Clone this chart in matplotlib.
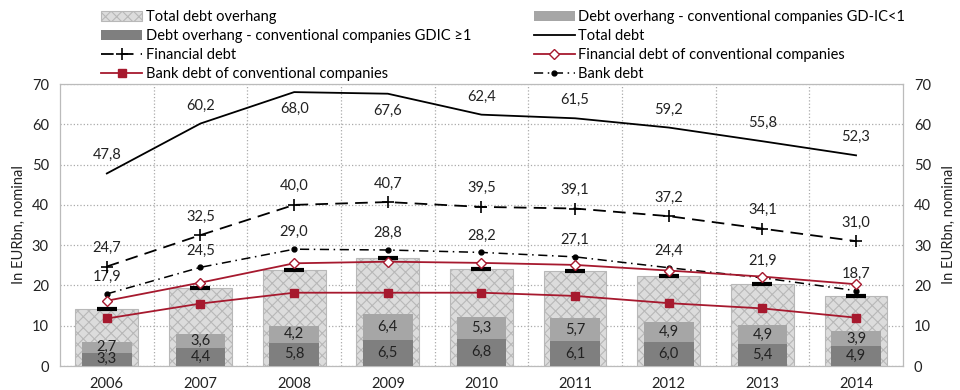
import matplotlib.pyplot as plt
import numpy as np

plt.rcParams['font.family'] = ['Lato', 'DejaVu Sans']
plt.rcParams['hatch.color'] = '#a0a0a0'
plt.rcParams['hatch.linewidth'] = 0.8

years = ['2006', '2007', '2008', '2009', '2010', '2011', '2012', '2013', '2014']
overhang_total = [14.1, 19.3, 23.8, 26.9, 24.2, 23.6, 22.3, 20.3, 17.4]
overhang_ge1 = [3.3, 4.4, 5.8, 6.5, 6.8, 6.1, 6.0, 5.4, 4.9]
overhang_lt1 = [2.7, 3.6, 4.2, 6.4, 5.3, 5.7, 4.9, 4.9, 3.9]
total_debt = [47.8, 60.2, 68.0, 67.6, 62.4, 61.5, 59.2, 55.8, 52.3]
financial_debt = [24.7, 32.5, 40.0, 40.7, 39.5, 39.1, 37.2, 34.1, 31.0]
bank_debt = [17.9, 24.5, 29.0, 28.8, 28.2, 27.1, 24.4, 21.9, 18.7]
fin_debt_conv = [16.2, 20.7, 25.5, 25.9, 25.6, 25.1, 23.7, 22.2, 20.3]
bank_debt_conv = [11.8, 15.5, 18.2, 18.2, 18.2, 17.4, 15.6, 14.3, 12.0]

def fmt(v):
    return f'{v:.1f}'.replace('.', ',')

red = '#a6192e'
x = np.arange(len(years))

fig = plt.figure(figsize=(9.6, 3.9), dpi=100)
ax = fig.add_axes([0.0625, 0.0615, 0.878, 0.723])

b0 = ax.bar(x, overhang_total, width=0.67, color='#dcdcdc', edgecolor='#b8b8b8',
            hatch='xxx', linewidth=0.8, label='Total debt overhang', zorder=2)
b1 = ax.bar(x, overhang_ge1, width=0.53, color='#7f7f7f',
            label='Debt overhang - conventional companies GDIC \u22651', zorder=3)
b2 = ax.bar(x, overhang_lt1, width=0.53, bottom=overhang_ge1, color='#a6a6a6',
            label='Debt overhang - conventional companies GD-IC<1', zorder=3)
ax.plot(x, overhang_total, ls='none', marker='_', ms=14, mew=3, color='black', zorder=4)

for i in range(len(x)):
    ax.text(x[i], overhang_ge1[i] / 2, fmt(overhang_ge1[i]), ha='center', va='center',
            fontsize=10.5, color='#222222', zorder=5)
    ax.text(x[i], overhang_ge1[i] + overhang_lt1[i] / 2, fmt(overhang_lt1[i]), ha='center',
            va='center', fontsize=10.5, color='#222222', zorder=5)

l_total, = ax.plot(x, total_debt, color='black', lw=1.3, label='Total debt', zorder=6)
l_fin, = ax.plot(x, financial_debt, color='black', lw=1.3, ls=(0, (7, 4)), marker='+',
                 ms=8, mew=1.2, label='Financial debt', zorder=6)
l_bank, = ax.plot(x, bank_debt, color='black', lw=1.1, ls=(0, (6, 3, 1, 3)), marker='o',
                  ms=3.5, label='Bank debt', zorder=6)
l_finc, = ax.plot(x, fin_debt_conv, color=red, lw=1.3, marker='D', ms=5.5, mfc='white',
                  mec=red, mew=1, label='Financial debt of conventional companies', zorder=7)
l_bankc, = ax.plot(x, bank_debt_conv, color=red, lw=1.3, marker='s', ms=6,
                   label='Bank debt of conventional companies', zorder=7)

for i in range(len(x)):
    off = -4.2 if years[i] in ('2008', '2009') else 4.5
    ax.text(x[i], total_debt[i] + off, fmt(total_debt[i]), ha='center', va='center',
            fontsize=10.5, color='#222222')
    ax.text(x[i], financial_debt[i] + 4.6, fmt(financial_debt[i]), ha='center', va='center',
            fontsize=10.5, color='#222222')
    ax.text(x[i], bank_debt[i] + 4.2, fmt(bank_debt[i]), ha='center', va='center',
            fontsize=10.5, color='#222222')

ax.set_xlim(-0.5, len(x) - 0.5)
ax.set_ylim(0, 70)
ax.set_xticks(x)
ax.set_xticklabels(years, fontsize=10.5)
ax.set_xticks(x[:-1] + 0.5, minor=True)
ax.set_yticks(range(0, 71, 10))
ax.tick_params(axis='both', which='both', length=0, labelsize=10.5, colors='#222222')
ax.tick_params(axis='y', pad=8)
ax.tick_params(axis='x', pad=8)
ax.grid(axis='y', which='major', ls=':', color='#aaaaaa', lw=0.9, zorder=0)
ax.grid(axis='x', which='minor', ls=':', color='#aaaaaa', lw=0.9, zorder=0)
ax.set_axisbelow(True)
for s in ax.spines.values():
    s.set_color('#bbbbbb')
    s.set_linewidth(0.9)
ax.set_ylabel('In EURbn, nominal', fontsize=10.5, color='#222222')

ax2 = ax.twinx()
ax2.set_ylim(0, 70)
ax2.set_yticks(range(0, 71, 10))
ax2.tick_params(axis='y', length=0, labelsize=10.5, colors='#222222', pad=8)
ax2.set_ylabel('In EURbn, nominal', fontsize=10.5, color='#222222', rotation=90, labelpad=8)
for s in ax2.spines.values():
    s.set_visible(False)

handles = [b0, b1, l_fin, l_bankc, b2, l_total, l_finc, l_bank]
fig.legend(handles=handles, labels=[h.get_label() for h in handles], ncol=2,
           loc='upper left', bbox_to_anchor=(0.092, 1.008), frameon=False, fontsize=10.5,
           handlelength=2.8, handletextpad=0.25, labelspacing=0.35, columnspacing=4.3)

plt.savefig('out.png', dpi=100)
